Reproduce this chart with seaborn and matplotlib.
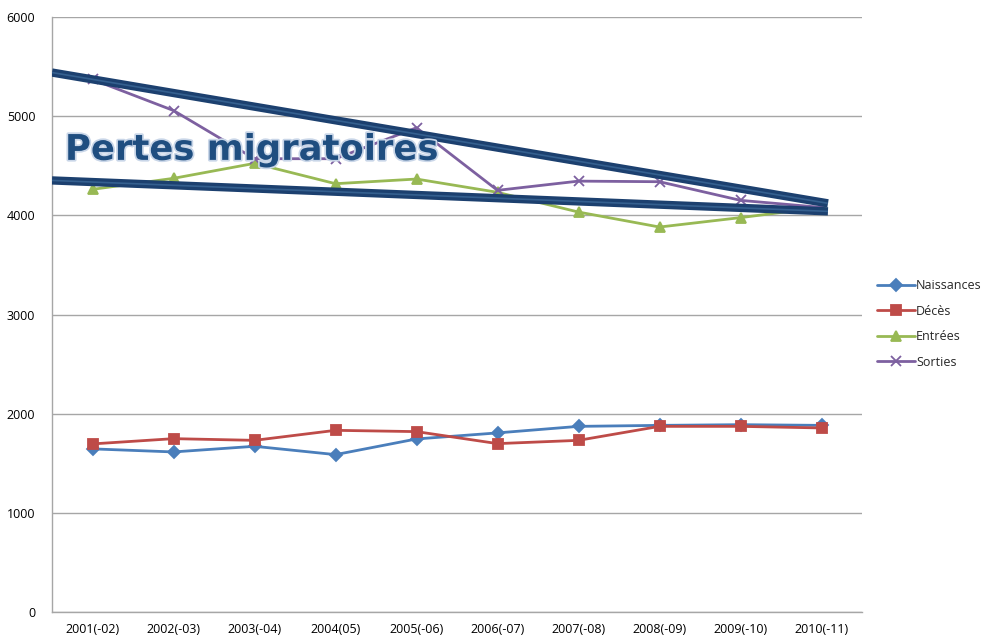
import numpy as np
import pandas as pd
import seaborn as sns
import matplotlib.pyplot as plt
import matplotlib.patheffects as pe

# data
years = ['2001(-02)', '2002(-03)', '2003(-04)', '2004(05)', '2005(-06)',
         '2006(-07)', '2007(-08)', '2008(-09)', '2009(-10)', '2010(-11)']
naissances = [1645, 1614, 1671, 1587, 1745, 1806, 1872, 1882, 1889, 1882]
deces = [1695, 1748, 1731, 1832, 1819, 1698, 1731, 1872, 1872, 1856]
entrees = [4262, 4373, 4524, 4319, 4366, 4232, 4033, 3882, 3977, 4080]
sorties = [5370, 5057, 4571, 4571, 4883, 4252, 4345, 4339, 4151, 4080]

series = ['Naissances', 'Décès', 'Entrées', 'Sorties']
colors = ['#4A7EBB', '#BE4B48', '#98B954', '#7D60A0']
marks = ['D', 's', '^', 'x']

# hand drawn "funnel" lines (x in category index, y in data units)
upper_x = [-0.5, 9.08]
upper_y = [5440, 4121]
lower_x = [-0.5, 9.08]
lower_y = [4352, 4040]

df = pd.DataFrame({
    'x': list(range(len(years))) * 4,
    'value': naissances + deces + entrees + sorties,
    'serie': [s for s in series for _ in years],
})

sns.set_style('white')
plt.rcParams['font.family'] = ['Open Sans', 'DejaVu Sans']

fig = plt.figure(figsize=(9.87, 6.38), dpi=100)
ax = fig.add_axes([52 / 987, 1 - 612 / 638, 810 / 987, 595 / 638])

for name, col, mk in zip(series, colors, marks):
    sub = df[df['serie'] == name]
    sns.lineplot(data=sub, x='x', y='value', color=col, marker=mk,
                 linewidth=2, markersize=7 if mk != 'D' else 6,
                 markeredgewidth=1.3, markeredgecolor=col,
                 label=name, ax=ax, sort=False)

# thick navy lines with a lighter stripe
for lx, ly in [(upper_x, upper_y), (lower_x, lower_y)]:
    ax.plot(lx, ly, color='#1C406F', lw=6, solid_capstyle='butt', zorder=5)
    ax.plot(lx, ly, color='#35608F', lw=1.2, solid_capstyle='butt', zorder=6)

ax.text(-0.34, 4660, 'Pertes migratoires', fontsize=25.5, fontweight='bold',
        color='#1F4E80', family=['DejaVu Sans'], zorder=7, va='center',
        path_effects=[pe.withStroke(linewidth=2.5, foreground='#C9D6E8')])

ax.set_xlim(-0.5, 9.5)
ax.set_ylim(0, 6000)
ax.set_xticks(range(len(years)))
ax.set_xticklabels(years)
ax.set_yticks(range(0, 7000, 1000))
ax.tick_params(axis='both', length=0, labelsize=9, colors='black')
ax.tick_params(axis='x', pad=8)
ax.tick_params(axis='y', pad=12)
ax.set_xlabel('')
ax.set_ylabel('')
ax.yaxis.grid(True, color='#A6A6A6', linewidth=1)
ax.set_axisbelow(True)
for side in ['top', 'right']:
    ax.spines[side].set_visible(False)
for side in ['left', 'bottom']:
    ax.spines[side].set_color('#A6A6A6')
    ax.spines[side].set_linewidth(1)

handles, labels = ax.get_legend_handles_labels()
ax.get_legend().remove()
fig.legend(handles, labels, loc='center left', bbox_to_anchor=(866 / 987, 1 - 324 / 638),
           frameon=False, fontsize=9, handlelength=3, handletextpad=0.1,
           labelspacing=1.0)

fig.savefig('out.png', dpi=100)
